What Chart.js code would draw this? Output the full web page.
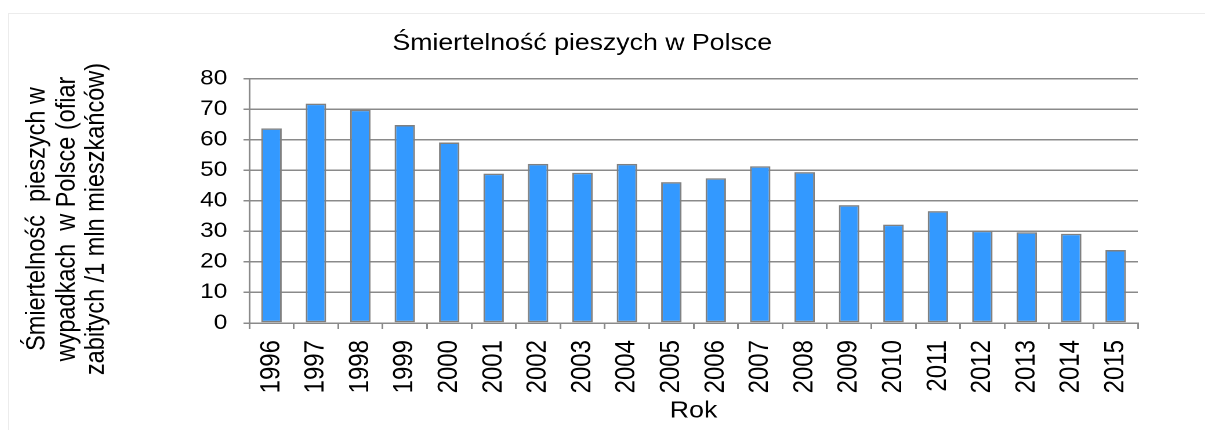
<!DOCTYPE html>
<html>
<head>
<meta charset="utf-8">
<script src="https://cdn.jsdelivr.net/npm/chart.js@4"></script>
<style>
  html, body { margin: 0; padding: 0; background: #fff; overflow: hidden; }
  body { width: 1205px; height: 430px; position: relative; }
  #frame { position: absolute; left: 8px; top: 13px; width: 1300px; height: 500px; border: 1px solid #ececec; box-sizing: border-box; }
  /* the original picture is stretched sideways, so the chart is drawn narrower and widened */
  #wrap { position: absolute; left: 8px; top: 13px; width: 990px; height: 417px; transform: scaleX(1.16); transform-origin: 0 0; }
</style>
</head>
<body>
<div id="frame"></div>
<div id="wrap"><canvas id="chart"></canvas></div>
<script>
const years = ['1996', '1997', '1998', '1999', '2000', '2001', '2002', '2003', '2004', '2005',
  '2006', '2007', '2008', '2009', '2010', '2011', '2012', '2013', '2014', '2015'];
const deathRate = [63.7, 71.8, 69.8, 64.8, 59.1, 48.9, 52.1, 49.2, 52.1, 46.1,
  47.4, 51.3, 49.4, 38.6, 32.2, 36.6, 30.2, 29.7, 29.2, 23.9];
const chartTitle = 'Śmiertelność pieszych w Polsce';
const yTitleLines = ['Śmiertelność  pieszych w', 'wypadkach  w Polsce (ofiar', 'zabitych /1 mln mieszkańców)'];
const xTitle = 'Rok';

const fontFamily = '"Liberation Sans", Arial, sans-serif';
const gridColor = '#8a8a8a';

// y axis title drawn by hand so it can sit a bit below the plot centre
const yTitlePlugin = {
  id: 'yTitle',
  afterDraw(chart) {
    const ctx = chart.ctx;
    ctx.save();
    ctx.fillStyle = '#000';
    ctx.font = '23.5px ' + fontFamily;
    ctx.textAlign = 'center';
    ctx.textBaseline = 'middle';
    const xs = [25, 51, 76];
    yTitleLines.forEach(function(line, i) {
      ctx.save();
      ctx.translate(xs[i], 206);
      ctx.rotate(-Math.PI / 2);
      ctx.fillText(line, 0, 0);
      ctx.restore();
    });
    ctx.restore();
  }
};

new Chart(document.getElementById('chart'), {
  type: 'bar',
  data: {
    labels: years,
    datasets: [{
      data: deathRate,
      backgroundColor: '#3399ff',
      borderColor: '#808080',
      borderWidth: 1.5,
      borderSkipped: false,
      barPercentage: 0.46,
      categoryPercentage: 1
    }]
  },
  options: {
    responsive: true,
    maintainAspectRatio: false,
    animation: false,
    devicePixelRatio: 2,
    layout: { padding: { left: 16, right: 16, top: 0, bottom: 0 } },
    plugins: {
      legend: { display: false },
      tooltip: { enabled: false },
      title: {
        display: true,
        text: chartTitle,
        color: '#000',
        font: { family: fontFamily, size: 23, weight: 'normal' },
        padding: { top: 17, bottom: 21 }
      }
    },
    scales: {
      x: {
        afterFit(scale) {
          scale.height = 107;
          scale.paddingLeft = 0;
          scale.paddingRight = 0;
        },
        grid: {
          drawOnChartArea: false,
          drawTicks: true,
          tickLength: 6,
          color: gridColor,
          lineWidth: 1.5
        },
        border: { color: gridColor, width: 1.5 },
        ticks: {
          color: '#000',
          font: { family: fontFamily, size: 24 },
          minRotation: 90,
          maxRotation: 90,
          padding: 11,
          autoSkip: false
        },
        title: {
          display: true,
          text: xTitle,
          color: '#000',
          font: { family: fontFamily, size: 23 },
          padding: { top: 4, bottom: 5 }
        }
      },
      y: {
        min: 0,
        max: 80,
        afterFit(scale) { scale.width = 192; },
        grid: {
          color: gridColor,
          lineWidth: 1.5,
          tickLength: 5
        },
        border: { color: gridColor, width: 1.5 },
        ticks: {
          stepSize: 10,
          autoSkip: false,
          color: '#000',
          font: { family: fontFamily, size: 21 },
          padding: 14
        }
      }
    }
  },
  plugins: [yTitlePlugin]
});
</script>
</body>
</html>
